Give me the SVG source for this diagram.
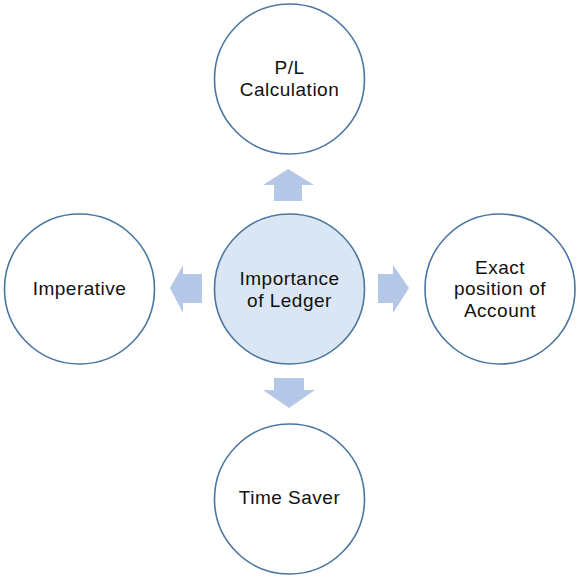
<svg xmlns="http://www.w3.org/2000/svg" width="580" height="578" viewBox="0 0 580 578">
<style>
.node circle{stroke:#4a76a0;stroke-width:1.6;fill:#ffffff}
#center circle{fill:#dbe6f4}
text{font-family:"Liberation Sans",Arial,sans-serif;font-size:19px;letter-spacing:0.5px;fill:#111111;text-anchor:middle}
.arrow{fill:#b4c7e7}
</style>
<rect width="580" height="578" fill="#ffffff"/>
<g id="connectors">
<polygon class="arrow" points="288,169 314,185 302,185 302,201 274,201 274,185 263,185"/>
<polygon class="arrow" points="170,288 183,265 183,274 202,274 202,303 183,303 183,313"/>
<polygon class="arrow" points="409,288 393,265 393,274 378,274 378,303 393,303 393,313"/>
<polygon class="arrow" points="289,408 315,390 304,390 304,378 274,378 274,390 263,390"/>
</g>
<g id="center" class="node">
<circle cx="289.5" cy="289" r="75"/>
<text x="289.5" y="285">Importance</text>
<text x="289.5" y="307">of Ledger</text>
</g>
<g id="top" class="node">
<circle cx="289.5" cy="79" r="75"/>
<text x="289.5" y="74">P/L</text>
<text x="289.5" y="96">Calculation</text>
</g>
<g id="left" class="node">
<circle cx="79.5" cy="289" r="75"/>
<text x="79.5" y="295">Imperative</text>
</g>
<g id="right" class="node">
<circle cx="500" cy="289" r="75"/>
<text x="500" y="274">Exact</text>
<text x="500" y="295">position of</text>
<text x="500" y="317">Account</text>
</g>
<g id="bottom" class="node">
<circle cx="289.5" cy="499" r="75"/>
<text x="289.5" y="504">Time Saver</text>
</g>
</svg>
